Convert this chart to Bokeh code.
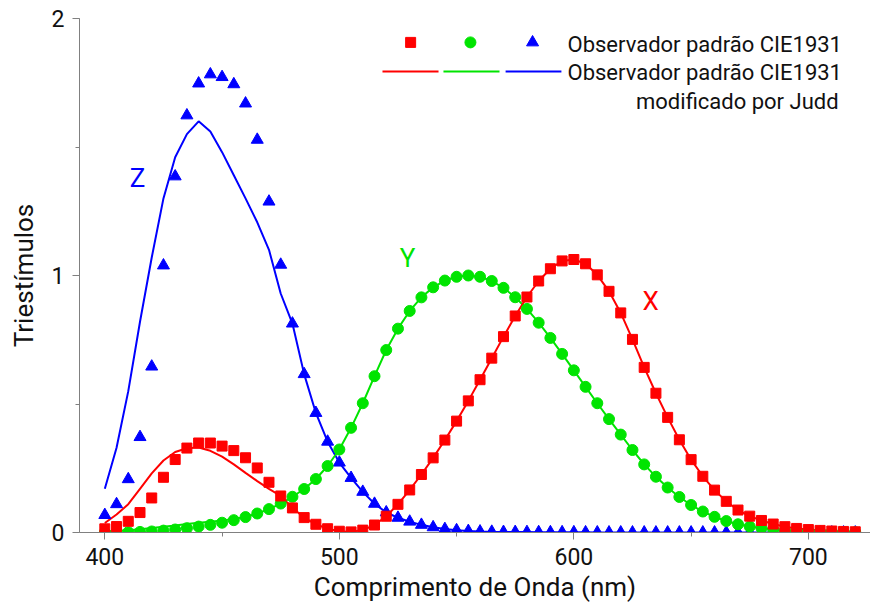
from bokeh.plotting import figure
from bokeh.models import Range1d, SingleIntervalTicker, Label, ColumnDataSource
from bokeh.embed import file_html
from bokeh.resources import INLINE

# CIE 1931 markers, every 5 nm from 400 to 720 nm
wl = list(range(400, 725, 5))
x_cie = [0.0143, 0.0232, 0.0435, 0.0776, 0.1344, 0.2148, 0.2839, 0.3285, 0.3483, 0.3481,
         0.3362, 0.3187, 0.2908, 0.2511, 0.1954, 0.1421, 0.0956, 0.0580, 0.0320, 0.0147,
         0.0049, 0.0024, 0.0093, 0.0291, 0.0633, 0.1096, 0.1655, 0.2257, 0.2904, 0.3597,
         0.4334, 0.5121, 0.5945, 0.6784, 0.7621, 0.8425, 0.9163, 0.9786, 1.0263, 1.0567,
         1.0622, 1.0456, 1.0026, 0.9384, 0.8544, 0.7514, 0.6424, 0.5419, 0.4479, 0.3608,
         0.2835, 0.2187, 0.1649, 0.1212, 0.0874, 0.0636, 0.0468, 0.0329, 0.0227, 0.0158,
         0.0114, 0.0081, 0.0058, 0.0041, 0.0029]
y_cie = [0.0004, 0.0006, 0.0012, 0.0022, 0.0040, 0.0073, 0.0116, 0.0168, 0.0230, 0.0298,
         0.0380, 0.0480, 0.0600, 0.0739, 0.0910, 0.1126, 0.1390, 0.1693, 0.2080, 0.2586,
         0.3230, 0.4073, 0.5030, 0.6082, 0.7100, 0.7932, 0.8620, 0.9149, 0.9540, 0.9803,
         0.9950, 1.0000, 0.9950, 0.9786, 0.9520, 0.9154, 0.8700, 0.8163, 0.7570, 0.6949,
         0.6310, 0.5668, 0.5030, 0.4412, 0.3810, 0.3210, 0.2650, 0.2170, 0.1750, 0.1382,
         0.1070, 0.0816, 0.0610, 0.0446, 0.0320, 0.0232, 0.0170, 0.0119, 0.0082, 0.0057,
         0.0041, 0.0029, 0.0021, 0.0015, 0.0010]
z_cie = [0.0679, 0.1102, 0.2074, 0.3713, 0.6456, 1.0391, 1.3856, 1.6230, 1.7471, 1.7826,
         1.7721, 1.7441, 1.6692, 1.5281, 1.2876, 1.0419, 0.8130, 0.6162, 0.4652, 0.3533,
         0.2720, 0.2123, 0.1582, 0.1117, 0.0783, 0.0573, 0.0422, 0.0298, 0.0203, 0.0134,
         0.0088, 0.0058, 0.0039, 0.0028, 0.0021, 0.0018, 0.0017, 0.0014, 0.0011, 0.0010,
         0.0008, 0.0006, 0.0003, 0.0002, 0.0002, 0.0001, 0.0001, 0.0, 0.0, 0.0,
         0.0, 0.0, 0.0, 0.0, 0.0, 0.0, 0.0, 0.0, 0.0, 0.0,
         0.0, 0.0, 0.0, 0.0, 0.0]

x_judd = [0.037, 0.07, 0.11, 0.17, 0.23, 0.28, 0.313, 0.328, 0.331, 0.318,
          0.295, 0.265, 0.232, 0.20, 0.17, 0.142] + x_cie[16:]
y_judd = [0.004, 0.007, 0.009, 0.013, 0.0175, 0.022, 0.027, 0.033, 0.038, 0.042,
          0.047, 0.053, 0.060, 0.0739, 0.0910, 0.1126] + y_cie[16:]
z_judd = [0.17, 0.33, 0.55, 0.82, 1.07, 1.30, 1.46, 1.55, 1.60, 1.56,
          1.48, 1.39, 1.30, 1.207, 1.10, 0.93] + z_cie[16:]

curve_names = ["X", "Y", "Z"]
legend_texts = ["Observador padrão CIE1931", "Observador padrão CIE1931", "modificado por Judd"]

RED, GREEN, BLUE = "#ff0000", "#00e400", "#0000ff"
FONT = "Roboto"

p = figure(width=870, height=612, output_backend="svg", toolbar_location=None,
           x_range=Range1d(389.2, 726.5), y_range=Range1d(0, 2),
           min_border_left=79, min_border_right=0, min_border_top=18, min_border_bottom=80)
p.outline_line_color = None
p.grid.visible = False
p.background_fill_color = "white"
p.border_fill_color = "white"

src = ColumnDataSource(dict(wl=wl, xc=x_cie, yc=y_cie, zc=z_cie, xj=x_judd, yj=y_judd, zj=z_judd))

p.line("wl", "zj", source=src, line_color=BLUE, line_width=2)
p.line("wl", "yj", source=src, line_color=GREEN, line_width=2)
p.line("wl", "xj", source=src, line_color=RED, line_width=2)
p.scatter("wl", "zc", source=src, marker="triangle", size=12, fill_color=BLUE, line_color=BLUE)
p.scatter("wl", "yc", source=src, marker="circle", size=11, fill_color=GREEN, line_color=GREEN)
p.scatter("wl", "xc", source=src, marker="square", size=10, fill_color=RED, line_color=RED)

# axes
for ax in (p.xaxis[0], p.yaxis[0]):
    ax.axis_line_color = "#808080"
    ax.major_tick_line_color = "#808080"
    ax.minor_tick_line_color = "#808080"
    ax.major_tick_in = 0
    ax.major_tick_out = 7
    ax.minor_tick_in = 0
    ax.minor_tick_out = 4
    ax.major_label_text_font = FONT
    ax.major_label_text_font_size = "23px"
    ax.major_label_text_color = "#111111"
    ax.axis_label_text_font = FONT
    ax.axis_label_text_font_style = "normal"
    ax.axis_label_text_color = "#111111"
    ax.axis_label_text_font_size = "26px"

p.xaxis.ticker = SingleIntervalTicker(interval=100, num_minor_ticks=2)
p.yaxis.ticker = SingleIntervalTicker(interval=1, num_minor_ticks=2)
p.xaxis.axis_label = "Comprimento de Onda (nm)"
p.yaxis.axis_label = "Triestímulos"
p.xaxis.major_label_standoff = 8
p.xaxis.axis_label_standoff = 4
p.yaxis.major_label_standoff = 8
p.yaxis.axis_label_standoff = 10

# curve labels
label_pos = [(632.7, 0.90, RED), (529.1, 1.07, GREEN), (413.9, 1.38, BLUE)]
for name, (lx, ly, c) in zip(curve_names, label_pos):
    p.add_layout(Label(x=lx, y=ly, text=name, text_color=c, text_font=FONT,
                       text_font_size="26px", text_align="center", text_baseline="middle"))

# custom legend
p.scatter([530.4], [1.907], marker="square", size=10, fill_color=RED, line_color=RED)
p.scatter([555.9], [1.907], marker="circle", size=11, fill_color=GREEN, line_color=GREEN)
p.scatter([582.4], [1.907], marker="triangle", size=12, fill_color=BLUE, line_color=BLUE)
p.line([518.4, 542.3], [1.794, 1.794], line_color=RED, line_width=2)
p.line([544.4, 568.3], [1.794, 1.794], line_color=GREEN, line_width=2)
p.line([570.9, 594.7], [1.794, 1.794], line_color=BLUE, line_width=2)
p.add_layout(Label(x=597.3, y=1.899, text=legend_texts[0], text_font=FONT, text_font_size="22px",
                   text_color="#111111", text_baseline="middle"))
p.add_layout(Label(x=597.3, y=1.790, text=legend_texts[1], text_font=FONT, text_font_size="22px",
                   text_color="#111111", text_baseline="middle"))
p.add_layout(Label(x=712.9, y=1.677, text=legend_texts[2], text_font=FONT, text_font_size="22px",
                   text_color="#111111", text_baseline="middle", text_align="right"))

open("out.html", "w").write(file_html(p, INLINE))
